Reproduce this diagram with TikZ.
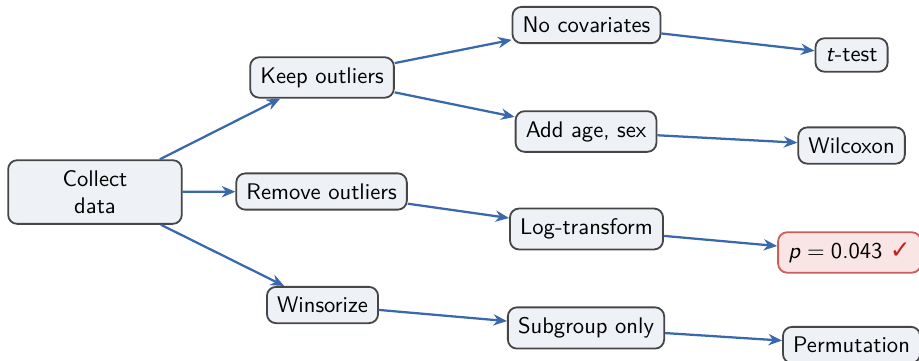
\documentclass[tikz,border=0pt]{standalone}
\usepackage{fontspec}
\usepackage{tikz}
\usetikzlibrary{arrows.meta,positioning}
\newfontfamily\symbfont{DejaVu Sans}
\renewcommand{\familydefault}{\sfdefault}
\definecolor{boxfill}{RGB}{238,242,247}
\definecolor{boxline}{RGB}{70,70,70}
\definecolor{arrowblue}{RGB}{58,104,172}
\definecolor{hitfill}{RGB}{250,229,229}
\definecolor{hitline}{RGB}{205,92,92}
\definecolor{checkred}{RGB}{200,30,30}
\newcommand{\tick}{{\symbfont\fontsize{11}{12}\selectfont\color{checkred}✓}}

\begin{document}
\begin{tikzpicture}[
    stepbox/.style={draw=boxline, fill=boxfill, line width=0.8pt, rounded corners=4pt, inner sep=4.5pt, font=\sffamily},
    hitbox/.style={stepbox, draw=hitline, fill=hitfill},
    path/.style={draw=arrowblue, line width=1pt, -{Stealth[length=6pt,width=5pt]}}
  ]
          \useasboundingbox (0,0) rectangle (14.29,5.598);

          \node[stepbox, minimum width=2.7cm, align=center] (collect) at (1.477, 2.612) {Collect\\data};

          \node[stepbox] (keep) at (5.007, 4.393) {Keep outliers};
          \node[stepbox] (remove) at (5.0, 2.620) {Remove outliers};
          \node[stepbox] (winsor) at (5.015, 0.855) {Winsorize};

          \node[stepbox] (nocov) at (9.120, 5.209) {No covariates};
          \node[stepbox] (agesex) at (9.112, 3.553) {Add age, sex};
          \node[stepbox] (logtr) at (9.120, 2.037) {Log-transform};
          \node[stepbox] (subgr) at (9.112, 0.498) {Subgroup only};

          \node[stepbox] (ttest) at (13.241, 4.743) {\textit{t}-test};
          \node[stepbox] (wilcox) at (13.241, 3.335) {Wilcoxon};
          \node[hitbox] (pval) at (13.21, 1.672) {\textit{p}${}={}$0.043 \tick};
          \node[stepbox] (perm) at (13.241, 0.233) {Permutation};

          \draw[path] (collect) -- (keep);
          \draw[path] (collect) -- (remove);
          \draw[path] (collect) -- (winsor);

          \draw[path] (keep) -- (nocov);
          \draw[path] (keep) -- (agesex);
          \draw[path] (remove) -- (logtr);
          \draw[path] (winsor) -- (subgr);

          \draw[path] (nocov) -- (ttest);
          \draw[path] (agesex) -- (wilcox);
          \draw[path] (logtr) -- (pval);
          \draw[path] (subgr) -- (perm);
        \end{tikzpicture}
\end{document}
